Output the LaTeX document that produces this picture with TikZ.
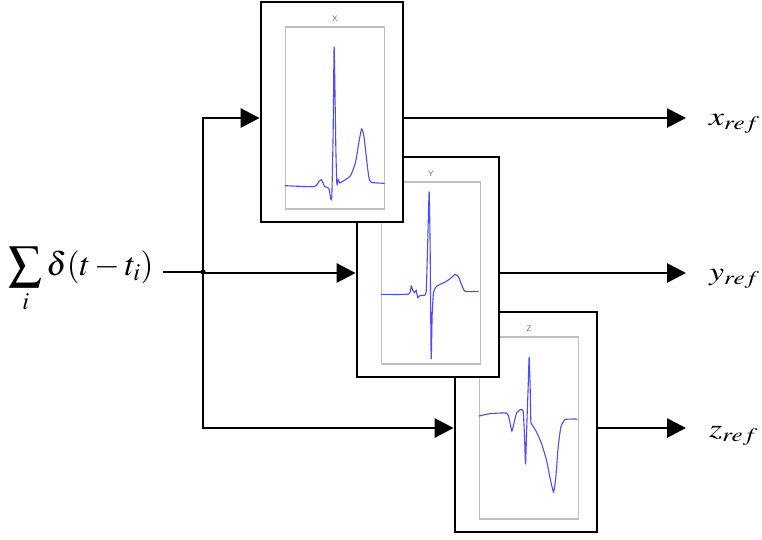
\documentclass[tikz,border=0pt]{standalone}
\usepackage{mathptmx}
\usepackage{graphicx}
\usetikzlibrary{arrows.meta, positioning}

\tikzset{
  frame/.style={draw, fill=white, line width=2.8pt, minimum width=142pt, minimum height=220pt, inner sep=0pt},
  plotbox/.style={draw=black!25, line width=1.3pt, minimum width=99pt, minimum height=182pt, inner sep=0pt},
  axlabel/.style={font=\sffamily\fontsize{8}{9}\selectfont, text=black!55, inner sep=0pt},
  wire/.style={line width=2.8pt},
  feed/.style={wire, -{Triangle[length=19pt,width=19pt]}},
  ecg/.style={blue!70, line width=1.1pt, smooth, tension=0.3},
  outlabel/.style={font=\fontsize{26}{29}\selectfont, anchor=west, inner sep=0pt},
}

\begin{document}
\begin{tikzpicture}[x=1pt, y=-1pt]
\useasboundingbox (0,0) rectangle (762,539);

% Z channel (drawn first, lies underneath)
\node[frame] (zbox) at (526,422) {};
\node[plotbox] (zplot) at ([shift={(3,6)}]zbox.center) {};
\node[axlabel, above=5pt of zplot] (zname) {Z};
\begin{scope}[shift={(zplot.north west)}]
\draw[ecg] plot coordinates {(0,79.7) (11,77.3) (27.7,76.7) (30.3,82.3) (33,94.7) (35,87.3) (37.7,76.7) (41.7,73.3) (44.3,74.7) (45.7,100.7) (46.7,128) (48,87.3) (49.3,50.7) (50.3,20.7) (51.3,50.7) (52,85.7) (53.7,89) (57.7,95.7) (62.7,107.3) (67.7,124) (71,140.7) (74.7,155.7) (77,140.7) (79.3,110.7) (82,90.7) (86,83.3) (92.7,82.7) (98.7,82.7)};
\end{scope}

% Y channel
\node[frame] (ybox) at (428,267) {};
\node[plotbox] (yplot) at ([shift={(3,6)}]ybox.center) {};
\node[axlabel, above=5pt of yplot] (yname) {Y};
\begin{scope}[shift={(yplot.north west)}]
\draw[ecg] plot coordinates {(0,113) (27.7,112.7) (30.3,104.7) (32,109) (33.7,111.3) (35.3,109) (37,116.3) (39.3,114) (42.7,114) (45.3,110.7) (46.7,67.3) (48.3,10) (49.3,67.3) (50.3,177.3) (51.3,134) (52.7,110.7) (56,104.7) (64.3,100.7) (69.3,97.3) (74.3,93) (77.7,95.7) (81,104) (84.3,110) (97.7,110)};
\end{scope}

% X channel (on top)
\node[frame] (xbox) at (332,112) {};
\node[plotbox] (xplot) at ([shift={(3,6)}]xbox.center) {};
\node[axlabel, above=5pt of xplot] (xname) {X};
\begin{scope}[shift={(xplot.north west)}]
\draw[ecg] plot coordinates {(0,159.3) (29,160.3) (34,155.3) (36.7,153.3) (38.3,157) (40,160.3) (44,162) (46,172.7) (47,169.3) (48.3,106) (49.3,20.3) (51,122.7) (52,157.7) (53.3,153.3) (55,156.7) (59,154.3) (65.7,149.3) (70.7,136) (74,116) (76.7,102.7) (79,109.3) (81.7,132.7) (84,151) (86.3,156) (99.7,157)};
\end{scope}

% input and branching
\node[anchor=east, font=\fontsize{33}{38}\selectfont] (src) at (157,280) {$\displaystyle\sum_i \delta(t-t_i)$};
\coordinate (split) at (203,272);
\coordinate (srcend) at ([xshift=6pt]src.east |- split);
\draw[wire] (srcend) -- (split);
\fill (split) circle (2.6pt);
\draw[feed] (split) |- (xplot -| xbox.west);
\draw[feed] (split) |- (yplot -| ybox.west);
\draw[feed] (split) |- (zplot -| zbox.west);

% outputs
\node[outlabel] (xref) at (709,124) {\scalebox{1.3}[1]{$x_{ref}$}};
\node[outlabel] (yref) at (709,279) {\scalebox{1.3}[1]{$y_{ref}$}};
\node[outlabel] (zref) at (709,436) {\scalebox{1.3}[1]{$z_{ref}$}};
\coordinate (xtip) at ([xshift=-23pt]xref.west |- xplot);
\coordinate (ytip) at ([xshift=-23pt]yref.west |- yplot);
\coordinate (ztip) at ([xshift=-23pt]zref.west |- zplot);
\draw[feed] (xplot -| xbox.east) -- (xtip);
\draw[feed] (yplot -| ybox.east) -- (ytip);
\draw[feed] (zplot -| zbox.east) -- (ztip);
\end{tikzpicture}
\end{document}
